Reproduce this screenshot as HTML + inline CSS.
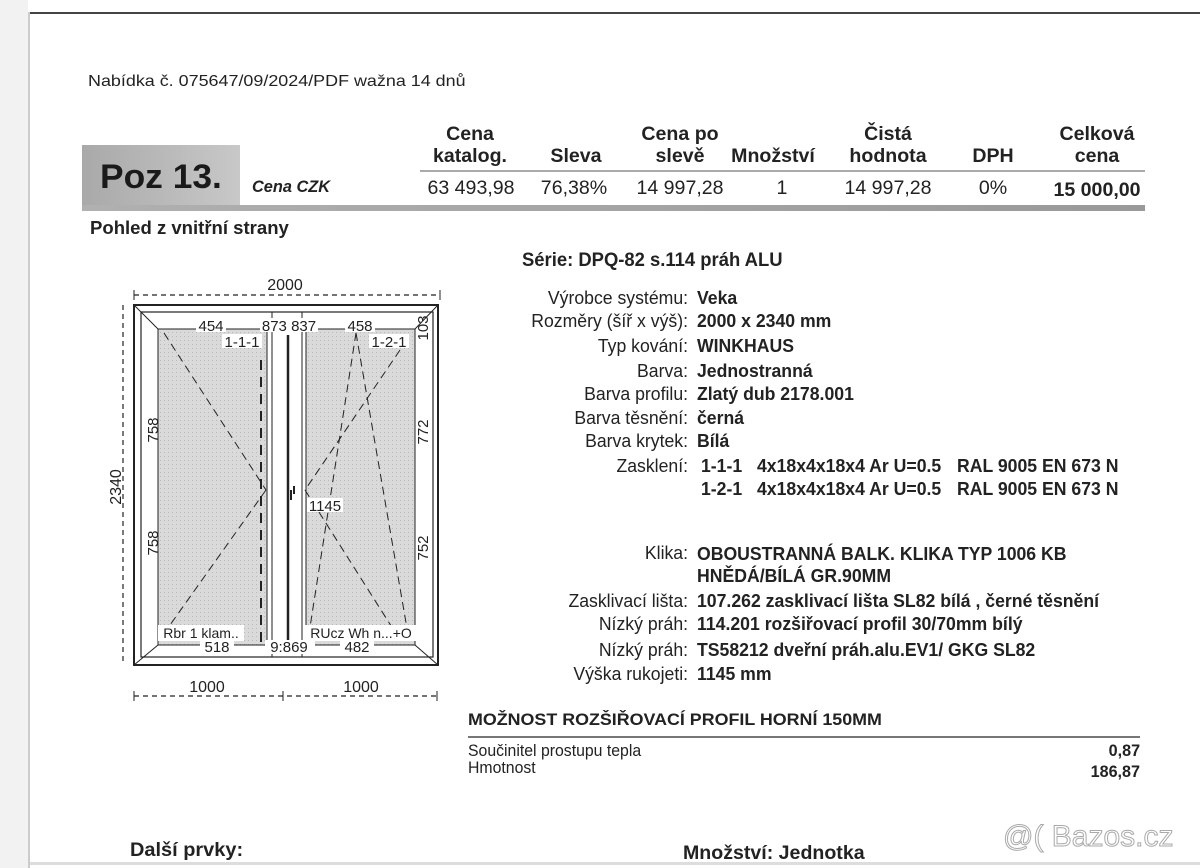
<!DOCTYPE html>
<html><head><meta charset="utf-8"><style>
body{margin:0;width:1200px;height:868px;background:#fff;position:relative;overflow:hidden;font-family:"Liberation Sans",sans-serif;color:#222}
.t{--s:1;position:absolute;white-space:nowrap;transform:scaleX(var(--s));transform-origin:left center;line-height:20px}
.r{--s:1;position:absolute;white-space:nowrap;transform:scaleX(var(--s));transform-origin:right center;line-height:20px;text-align:right}
.c{--s:1.03;position:absolute;white-space:nowrap;transform:translateX(-50%) scaleX(var(--s));line-height:22px;text-align:center;font-size:19px}
.b{font-weight:bold}
.lab{font-size:18px;right:512px;--s:.98}
.val{font-size:18px;left:697px;font-weight:bold;--s:.98}
</style></head><body>
<div style="position:absolute;left:28px;top:12px;width:1172px;height:2px;background:#444"></div>
<div style="position:absolute;left:0;top:0;width:28px;height:868px;background:#f2f2f2"></div>
<div style="position:absolute;left:28px;top:12px;width:2px;height:856px;background:#ccc"></div>
<div class="t" style="left:88px;top:72px;font-size:16px;--s:1.12">Nabídka č. 075647/09/2024/PDF wažna 14 dnů</div>

<div style="position:absolute;left:82px;top:145px;width:158px;height:62px;background:linear-gradient(90deg,#a9a9a9,#c8c8c8)"></div>
<div class="t b" style="left:100px;top:159px;font-size:34px;line-height:36px;color:#1a1a1a;--s:1.04">Poz 13.</div>
<div class="t b" style="left:252px;top:177px;font-size:17px;font-style:italic;--s:.96">Cena CZK</div>
<div style="position:absolute;left:420px;top:170px;width:725px;height:2px;background:#aaa"></div>
<div style="position:absolute;left:82px;top:205px;width:1063px;height:6px;background:linear-gradient(90deg,#b0b0b0,#999)"></div>

<div class="c b" style="left:470px;top:124px">Cena<br>katalog.</div>
<div class="c b" style="left:576px;top:146px">Sleva</div>
<div class="c b" style="left:680px;top:124px">Cena po<br>slevě</div>
<div class="c b" style="left:773px;top:146px">Množství</div>
<div class="c b" style="left:888px;top:124px">Čistá<br>hodnota</div>
<div class="c b" style="left:993px;top:146px">DPH</div>
<div class="c b" style="left:1097px;top:124px">Celková<br>cena</div>
<div class="c" style="left:471px;top:178px">63 493,98</div>
<div class="c" style="left:574px;top:178px">76,38%</div>
<div class="c" style="left:680px;top:178px">14 997,28</div>
<div class="c" style="left:782px;top:178px">1</div>
<div class="c" style="left:888px;top:178px">14 997,28</div>
<div class="c" style="left:993px;top:178px">0%</div>
<div class="c b" style="left:1097px;top:180px">15 000,00</div>

<div class="t b" style="left:90px;top:218px;font-size:18px;--s:1.03">Pohled z vnitřní strany</div>
<div class="t b" style="left:522px;top:251px;font-size:19px;--s:.97">Série: DPQ-82 s.114 práh ALU</div>

<div class="r lab" style="top:288px">Výrobce systému:</div><div class="t val" style="top:288px">Veka</div>
<div class="r lab" style="top:311px">Rozměry (šíř x výš):</div><div class="t val" style="top:311px">2000 x 2340 mm</div>
<div class="r lab" style="top:336px">Typ kování:</div><div class="t val" style="top:336px">WINKHAUS</div>
<div class="r lab" style="top:361px">Barva:</div><div class="t val" style="top:361px">Jednostranná</div>
<div class="r lab" style="top:384px">Barva profilu:</div><div class="t val" style="top:384px">Zlatý dub 2178.001</div>
<div class="r lab" style="top:408px">Barva těsnění:</div><div class="t val" style="top:408px">černá</div>
<div class="r lab" style="top:431px">Barva krytek:</div><div class="t val" style="top:431px">Bílá</div>
<div class="r lab" style="top:456px">Zasklení:</div>
<div class="t val" style="top:456px;left:701px">1-1-1</div><div class="t val" style="top:456px;left:757px">4x18x4x18x4 Ar U=0.5</div><div class="t val" style="top:456px;left:957px">RAL 9005 EN 673 N</div>
<div class="t val" style="top:479px;left:701px">1-2-1</div><div class="t val" style="top:479px;left:757px">4x18x4x18x4 Ar U=0.5</div><div class="t val" style="top:479px;left:957px">RAL 9005 EN 673 N</div>
<div class="r lab" style="top:543px">Klika:</div><div class="t val" style="top:543px;line-height:22px">OBOUSTRANNÁ BALK. KLIKA TYP 1006 KB<br>HNĚDÁ/BÍLÁ GR.90MM</div>
<div class="r lab" style="top:591px">Zasklivací lišta:</div><div class="t val" style="top:591px">107.262 zasklivací lišta SL82 bílá , černé těsnění</div>
<div class="r lab" style="top:614px">Nízký práh:</div><div class="t val" style="top:614px">114.201 rozšiřovací profil 30/70mm bílý</div>
<div class="r lab" style="top:640px">Nízký práh:</div><div class="t val" style="top:640px">TS58212 dveřní práh.alu.EV1/ GKG SL82</div>
<div class="r lab" style="top:664px">Výška rukojeti:</div><div class="t val" style="top:664px">1145 mm</div>

<div class="t b" style="left:468px;top:710px;font-size:17px;--s:1.05">MOŽNOST ROZŠIŘOVACÍ PROFIL HORNÍ 150MM</div>
<div style="position:absolute;left:468px;top:736px;width:672px;height:2px;background:#777"></div>
<div class="t" style="left:468px;top:741px;font-size:17px;--s:.93">Součinitel prostupu tepla</div>
<div class="t" style="left:468px;top:758px;font-size:17px;--s:.93">Hmotnost</div>
<div class="r b" style="right:60px;top:741px;font-size:17px;--s:.95">0,87</div>
<div class="r b" style="right:60px;top:762px;font-size:17px;--s:.95">186,87</div>

<div class="t b" style="left:130px;top:841px;font-size:19px;--s:1.05">Další prvky:</div>
<div class="t b" style="left:683px;top:844px;font-size:19px;--s:1.03">Množství: Jednotka</div>
<div style="position:absolute;left:30px;top:862px;width:1170px;height:3px;background:#ddd"></div>
<div class="t" style="left:1003px;top:821px;font-size:30px;line-height:32px;color:#fff;-webkit-text-stroke:1px #aaa">@( Bazos.cz</div>

<svg width="1200" height="868" style="position:absolute;left:0;top:0" font-family="Liberation Sans, sans-serif" font-size="15" fill="none" stroke="#222">
<defs><pattern id="g" width="4" height="4" patternUnits="userSpaceOnUse"><rect width="4" height="4" fill="#dadada" stroke="none"/><rect width="1" height="1" fill="#b8b8b8" stroke="none"/></pattern></defs>
<g stroke-dasharray="5,4" stroke-width="1.2">
<line x1="134" y1="295" x2="440" y2="295"/><line x1="123" y1="305" x2="123" y2="665"/><line x1="134" y1="696" x2="440" y2="696"/>
</g>
<line x1="134" y1="290" x2="134" y2="300"/><line x1="440" y1="290" x2="440" y2="300"/><line x1="283" y1="691" x2="283" y2="701"/><line x1="134" y1="691" x2="134" y2="701"/><line x1="437" y1="691" x2="437" y2="701"/>
<rect x="134" y="305" width="304" height="360" stroke-width="2"/>
<rect x="141" y="312" width="292" height="345" stroke-width="1.2"/>
<line x1="134" y1="305" x2="158" y2="329"/><line x1="438" y1="305" x2="415" y2="329"/><line x1="134" y1="665" x2="158" y2="645"/><line x1="438" y1="665" x2="415" y2="645"/>
<rect x="158" y="329" width="109" height="316" fill="url(#g)"/>
<rect x="306" y="329" width="109" height="316" fill="url(#g)"/>
<line x1="272" y1="312" x2="272" y2="657"/><line x1="288" y1="335" x2="288" y2="645" stroke-width="2.5"/><line x1="302" y1="312" x2="302" y2="657"/>
<line x1="261" y1="360" x2="261" y2="645" stroke-width="2" stroke-dasharray="10,7"/>
<g stroke-dasharray="8,5" stroke-width="1">
<line x1="164" y1="333" x2="266" y2="490"/><line x1="266" y1="490" x2="170" y2="625"/>
<line x1="356" y1="333" x2="308" y2="640"/><line x1="356" y1="333" x2="409" y2="640"/>
<line x1="400" y1="350" x2="305" y2="490"/><line x1="305" y1="490" x2="400" y2="640"/>
</g>
<g fill="#222" stroke="none" font-size="16" text-anchor="middle">
<text x="285" y="290">2000</text>
<text x="207" y="692">1000</text><text x="361" y="692">1000</text>
<text transform="translate(121,487) rotate(-90)">2340</text>
</g>
<g fill="#222" stroke="none" font-size="15" text-anchor="middle">
<rect x="196" y="318" width="30" height="14" fill="#fff"/><text x="211" y="331">454</text>
<rect x="260" y="318" width="58" height="14" fill="#fff"/><text x="289" y="331">873 837</text>
<rect x="345" y="318" width="30" height="14" fill="#fff"/><text x="360" y="331">458</text>
<rect x="222" y="334" width="40" height="14" fill="#fff"/><text x="242" y="347">1-1-1</text>
<rect x="369" y="334" width="40" height="14" fill="#fff"/><text x="389" y="347">1-2-1</text>
<rect x="158" y="625" width="86" height="16" fill="#fff"/><text x="201" y="638" font-size="14">Rbr 1 klam..</text>
<rect x="305" y="625" width="112" height="16" fill="#fff"/><text x="361" y="638" font-size="14">RUcz Wh n...+O</text>
<rect x="200" y="640" width="34" height="14" fill="#fff"/><text x="217" y="652">518</text>
<rect x="265" y="640" width="50" height="14" fill="#fff"/><text x="289" y="652">9:869</text>
<rect x="340" y="640" width="34" height="14" fill="#fff"/><text x="357" y="652">482</text>
<rect x="307" y="498" width="36" height="14" fill="#fff"/><text x="325" y="511">1145</text>
<text transform="translate(158,430) rotate(-90)">758</text>
<text transform="translate(158,543) rotate(-90)">758</text>
<text transform="translate(428,432) rotate(-90)">772</text>
<text transform="translate(428,548) rotate(-90)">752</text>
<text transform="translate(428,328) rotate(-90)">103</text>
</g>
<path d="M291 490 v10 M294 486 v8" stroke-width="2"/>
</svg>
</body></html>
